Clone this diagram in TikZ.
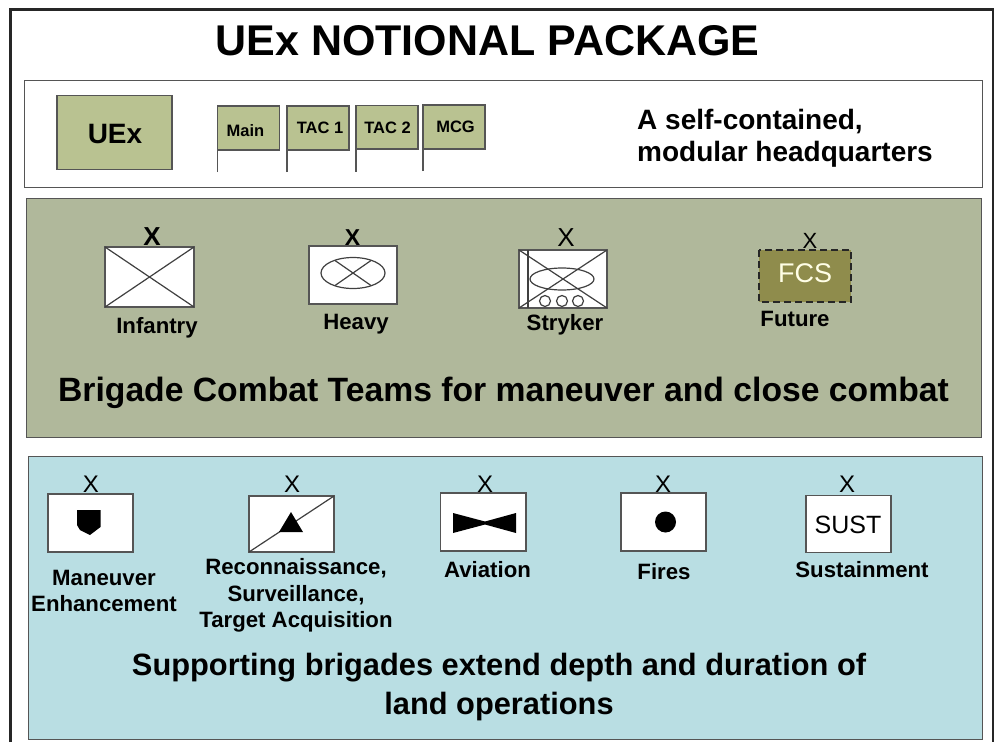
\documentclass[tikz,border=0pt]{standalone}
\usepackage{fontspec}
\setmainfont{Liberation Sans}
\usetikzlibrary{positioning}
\definecolor{hqgreen}{HTML}{B9C291}
\definecolor{bctgreen}{HTML}{B0B89B}
\definecolor{supblue}{HTML}{B9DEE3}
\definecolor{fcsgreen}{HTML}{8F8C4C}
\definecolor{edge}{HTML}{555555}
\tikzset{
  panel/.style={draw=edge,line width=1pt},
  unitbox/.style={draw=edge,line width=1.1pt,fill=white},
  symline/.style={draw=black!75,line width=1.2pt},
  unitname/.style={font=\fontsize{22.2}{26.5}\selectfont\bfseries,align=center},
  echelon/.style={font=\fontsize{24}{24}\selectfont},
  echelonbf/.style={font=\fontsize{26}{26}\selectfont\bfseries},
  flagname/.style={font=\fontsize{16.5}{18}\selectfont\bfseries},
  headline/.style={font=\fontsize{30.8}{39}\selectfont\bfseries,align=center}
}
\begin{document}
\begin{tikzpicture}[x=1pt,y=-1pt]
\useasboundingbox (0,0) rectangle (995,742);
\draw[black!85,line width=2.6pt] (10.5,742) -- (10.5,9.5) -- (993,9.5) -- (993,742);
\node[font=\fontsize{43}{43}\selectfont\bfseries] (title) at (487.5,41) {UEx NOTIONAL PACKAGE};

% headquarters
\draw[panel,fill=white] (24,80.5) rectangle (982,187.5);
\draw[unitbox,fill=hqgreen] (57,95.5) rectangle (172,169.5);
\node[font=\fontsize{28}{28}\selectfont\bfseries] (uex) at (115,134) {UEx};
\draw[edge,line width=1.1pt] (217.5,172) -- (217.5,106) ;
\draw[unitbox,fill=hqgreen] (217.5,106) rectangle (279.5,150);
\node[flagname] (main) at (245.5,130.5) {Main};
\draw[edge,line width=1.1pt] (287,172) -- (287,106);
\draw[unitbox,fill=hqgreen] (287,106) rectangle (349,150);
\node[flagname] (tac1) at (320,128) {TAC 1};
\draw[edge,line width=1.1pt] (356,171.5) -- (356,105.5);
\draw[unitbox,fill=hqgreen] (356,105.5) rectangle (418,149);
\node[flagname] (tac2) at (387.5,128) {TAC 2};
\draw[edge,line width=1.1pt] (423,171) -- (423,105);
\draw[unitbox,fill=hqgreen] (423,105) rectangle (485,149);
\node[flagname] (mcg) at (455.5,127) {MCG};
\node[font=\fontsize{28}{32}\selectfont\bfseries,align=left,anchor=west,inner sep=0pt] (hqtext) at (637,138) {A self-contained,\\modular headquarters};

% brigade combat teams
\draw[panel,fill=bctgreen] (26,198) rectangle (981,437);
\draw[unitbox] (105,247) rectangle (194,307);
\draw[symline] (105,247) -- (194,307);
\draw[symline] (105,307) -- (194,247);
\node[echelonbf] (xinf) at (152,236.5) {X};
\node[unitname] (infantry) at (157,328) {Infantry};
\draw[unitbox] (309,246) rectangle (397,304);
\draw[symline] (353,273) ellipse (32 and 15.5);
\draw[symline] (335,260.5) -- (371,285.5);
\draw[symline] (335,285.5) -- (371,260.5);
\node[echelonbf,font=\fontsize{23}{23}\selectfont\bfseries] (xhvy) at (352.5,237.5) {X};
\node[unitname] (heavy) at (356,324) {Heavy};
\draw[unitbox] (519,250) rectangle (607,308);
\draw[symline] (528,250) -- (528,308);
\draw[symline] (519,250) -- (607,308);
\draw[symline] (519,308) -- (607,250);
\draw[symline] (562,279) ellipse (32 and 11);
\draw[symline] (545,301) circle (5.5);
\draw[symline] (562,301) circle (5.5);
\draw[symline] (578,301) circle (5.5);
\node[echelon,font=\fontsize{26}{26}\selectfont] (xstk) at (566,238) {X};
\node[unitname] (stryker) at (565,325) {Stryker};
\draw[black!85,dash pattern=on 7pt off 4pt,line width=1.8pt,fill=fcsgreen] (759,250) rectangle (851,302);
\node[text=white!90!yellow,font=\fontsize{27}{27}\selectfont] (fcs) at (805,273) {FCS};
\node[echelon,font=\fontsize{22}{22}\selectfont] (xfcs) at (810,241) {X};
\node[unitname] (future) at (795,318.5) {Future};
\node[headline,font=\fontsize{33.7}{39}\selectfont\bfseries] (bcttext) at (503.5,393) {Brigade Combat Teams for maneuver and close combat};

% supporting brigades
\draw[panel,fill=supblue] (28,456.5) rectangle (982,739);
\draw[unitbox] (48,494) rectangle (133,552);
\fill[black] (77,510) -- (100.5,510) -- (100.5,527) -- (90,535) -- (80,530) -- (77,525) -- cycle;
\node[echelon] (xme) at (91,484.5) {X};
\node[unitname] (maneuver) at (104,591) {Maneuver\\Enhancement};
\draw[unitbox] (249,496) rectangle (334,552);
\draw[symline] (249,552) -- (334,496);
\fill[black] (291,512) -- (303,532) -- (279,532) -- cycle;
\node[echelon] (xrsta) at (292,484.5) {X};
\node[unitname] (rsta) at (296,595.5) {Reconnaissance,\\Surveillance,\\Target Acquisition};
\draw[unitbox] (440.5,493) rectangle (526,551);
\fill[black] (453,513) -- (485,521.5) -- (516,513) -- (516,533) -- (485,524.5) -- (453,533) -- cycle;
\node[echelon] (xavn) at (485,484.5) {X};
\node[unitname] (aviation) at (487.5,570) {Aviation};
\draw[unitbox] (621,493) rectangle (706,551);
\fill[black] (665.5,522) circle (10.5);
\node[echelon] (xfires) at (663,484.5) {X};
\node[unitname] (fires) at (664,571.5) {Fires};
\draw[unitbox] (806,495.5) rectangle (891,552.5);
\node[font=\fontsize{25}{25}\selectfont] (sust) at (848,525) {SUST};
\node[echelon] (xsust) at (847,484.5) {X};
\node[unitname] (sustainment) at (862,570) {Sustainment};
\node[headline] (suptext) at (499,687.5) {Supporting brigades extend depth and duration of\\land operations};

\end{tikzpicture}
\end{document}
